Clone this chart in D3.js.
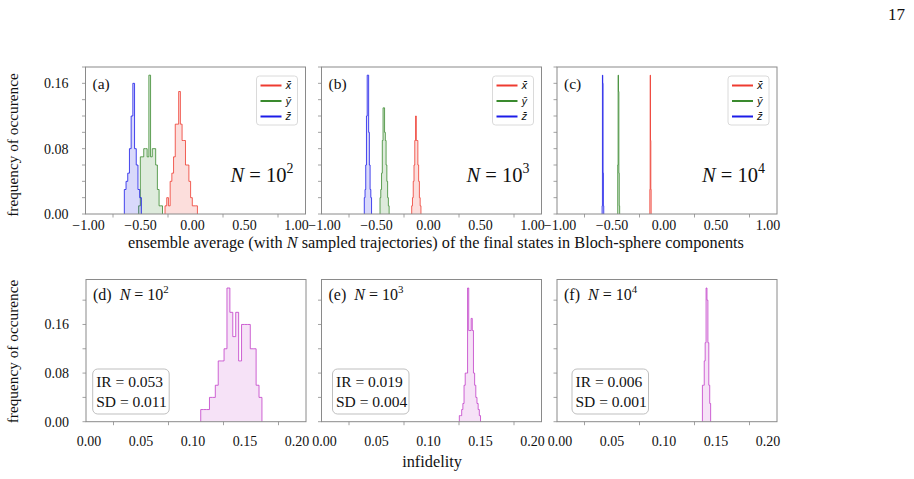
<!DOCTYPE html>
<html>
<head>
<meta charset="utf-8">
<script src="https://cdn.jsdelivr.net/npm/d3@7"></script>
<style>
  body { margin: 0; background: #fff; }
  svg text { font-family: "Liberation Serif", "Times New Roman", serif; fill: #111; }
</style>
</head>
<body>
<svg id="fig" width="914" height="479"></svg>
<script>
// ---- data ----
// top row: histograms of the Bloch components, one entry per component (x̄, ȳ, z̄)
var compNames = ["x\u0304", "y\u0304", "z\u0304"];
var compColors = ["#ee3b30", "#3a8a2e", "#1c1ce8"];

var histA = [
    { start: -0.277, width: 0.0155, freq: [0.01, 0.02, 0.01, 0.04, 0.05, 0.07, 0.11, 0.11, 0.15, 0.11, 0.09, 0.09, 0.06, 0.06, 0.04, 0.02, 0.01, 0.01, 0.01] },
    { start: -0.517, width: 0.0155, freq: [0.01, 0.07, 0.07, 0.08, 0.08, 0.07, 0.17, 0.07, 0.08, 0.08, 0.06, 0.03, 0.01, 0.01] },
    { start: -0.647, width: 0.0155, freq: [0.03, 0.04, 0.05, 0.08, 0.12, 0.16, 0.08, 0.06, 0.03, 0.02] }
];
var histB = [
    { start: -0.180, width: 0.0070, freq: [0.01, 0.02, 0.04, 0.06, 0.09, 0.12, 0.09, 0.09, 0.06, 0.04, 0.02, 0.01] },
    { start: -0.468, width: 0.0069, freq: [0.02, 0.03, 0.05, 0.09, 0.13, 0.13, 0.10, 0.09, 0.06, 0.04, 0.02, 0.01] },
    { start: -0.611, width: 0.0066, freq: [0.02, 0.03, 0.06, 0.12, 0.17, 0.17, 0.10, 0.06, 0.03, 0.02] }
];
var histC = [
    { start: -0.156, width: 0.0030, freq: [0.03, 0.17, 0.09, 0.03] },
    { start: -0.448, width: 0.0035, freq: [0.06, 0.17, 0.15, 0.05, 0.01] },
    { start: -0.590, width: 0.0030, freq: [0.01, 0.17, 0.16, 0.05, 0.01] }
];

// bottom row: infidelity histograms
var histD = { start: 0.1043, width: 0.00265, freq: [0.02, 0.02, 0.02, 0.04, 0.04, 0.06, 0.10, 0.10, 0.12, 0.22, 0.18, 0.14, 0.18, 0.10, 0.16, 0.16, 0.16, 0.12, 0.12, 0.06, 0.04] };
var histE = { start: 0.1253, width: 0.00107, freq: [0.01, 0.01, 0.02, 0.03, 0.06, 0.08, 0.08, 0.22, 0.15, 0.15, 0.17, 0.15, 0.08, 0.06, 0.04, 0.03, 0.02, 0.01] };
var histF = { start: 0.1322, width: 0.00083, freq: [0.06, 0.06, 0.10, 0.13, 0.22, 0.20, 0.13, 0.06, 0.03] };

var panelTags = ["(a)", "(b)", "(c)", "(d)", "(e)", "(f)"];
var sampleExps = ["2", "3", "4"];
var irValues = ["0.053", "0.019", "0.006"];
var sdValues = ["0.011", "0.004", "0.001"];

var topXTicks = [-1, -0.5, 0, 0.5, 1];
var topXMinor = [-0.75, -0.25, 0.25, 0.75];
var botXTicks = [0, 0.05, 0.10, 0.15, 0.20];
var botXMinor = [0.025, 0.075, 0.125, 0.175];
var yTickLabels = [0, 0.08, 0.16];

// ---- layout ----
var svg = d3.select("#fig");
var colLefts = [85.5, 321.5, 557];
var panelW = 220;
var topRow = { top: 67, bottom: 214 };
var botRow = { top: 279.5, bottom: 421.7 };
var spineColor = "#8a8a8a";
var purple = "#c23fc8";

function stepPoints(h) {
    var pts = [[h.start, 0]];
    h.freq.forEach(function (f, i) { pts.push([h.start + i * h.width, f]); });
    pts.push([h.start + h.freq.length * h.width, 0]);
    return pts;
}

function drawHist(g, x, y, h, color, fillOpacity) {
    var pts = stepPoints(h);
    g.append("path")
        .attr("d", d3.area().curve(d3.curveStepAfter)
            .x(function (d) { return x(d[0]); })
            .y0(y(0))
            .y1(function (d) { return y(d[1]); })(pts))
        .attr("fill", color).attr("fill-opacity", fillOpacity).attr("stroke", "none");
    g.append("path")
        .attr("d", d3.line().curve(d3.curveStepAfter)
            .x(function (d) { return x(d[0]); })
            .y(function (d) { return y(d[1]); })(pts))
        .attr("fill", "none").attr("stroke", color).attr("stroke-opacity", 0.8).attr("stroke-width", 1);
}

function drawFrame(g, x, y, row, xMinor, xTicks, xFmt, yStep, yMax, labelDy, showY) {
    var l = x.range()[0], r = x.range()[1];
    // minor ticks
    g.selectAll(".xt").data(xMinor).enter().append("line")
        .attr("x1", function (d) { return x(d); }).attr("x2", function (d) { return x(d); })
        .attr("y1", row.bottom).attr("y2", row.bottom + 3.5)
        .attr("stroke", spineColor).attr("stroke-width", 0.8);
    var yt = d3.range(0, yMax + 1e-9, yStep);
    g.selectAll(".yt").data(yt).enter().append("line")
        .attr("x1", l - 3.5).attr("x2", l)
        .attr("y1", function (d) { return y(d); }).attr("y2", function (d) { return y(d); })
        .attr("stroke", spineColor).attr("stroke-width", 0.8);
    // tick labels sit a little inward of the frame in the original
    var xl = x.copy().range([l + 3, r - 9]);
    g.selectAll(".xl").data(xTicks).enter().append("text")
        .attr("x", function (d) { return xl(d); })
        .attr("y", row.bottom + labelDy)
        .attr("text-anchor", "middle").attr("font-size", 14)
        .text(xFmt);
    if (showY) {
        g.selectAll(".yl").data(yTickLabels).enter().append("text")
            .attr("x", l - 17).attr("y", function (d) { return y(d); })
            .attr("dy", "0.35em").attr("text-anchor", "end").attr("font-size", 14)
            .text(d3.format(".2f"));
    }
    g.append("rect")
        .attr("x", l).attr("y", row.top).attr("width", r - l).attr("height", row.bottom - row.top)
        .attr("fill", "none").attr("stroke", spineColor).attr("stroke-width", 1);
}

function nLabel(sel, exp, size) {
    sel.append("tspan").attr("font-style", "italic").text("N");
    sel.append("tspan").text(" = 10");
    sel.append("tspan").attr("dy", -size * 0.42).attr("font-size", size * 0.68).text(exp);
}

// ---- top row ----
[histA, histB, histC].forEach(function (hists, c) {
    var l = colLefts[c];
    var x = d3.scaleLinear().domain([-1, 1]).range([l, l + panelW]);
    var y = d3.scaleLinear().domain([0, 0.18]).range([topRow.bottom, topRow.top]);
    var g = svg.append("g");
    hists.forEach(function (h, k) { drawHist(g, x, y, h, compColors[k], 0.17); });
    drawFrame(g, x, y, topRow, topXMinor, topXTicks, d3.format(".2f"), 0.02, 0.18, 16, c === 0);

    g.append("text").attr("x", l + 7).attr("y", topRow.top + 22).attr("font-size", 15.5).text(panelTags[c]);

    var nt = g.append("text").attr("x", l + panelW - 12).attr("y", topRow.top + 114.5)
        .attr("text-anchor", "end").attr("font-size", 20.5);
    nLabel(nt, sampleExps[c], 20.5);

    // legend
    var lx = l + panelW - 49, ly = topRow.top + 9;
    g.append("rect").attr("x", lx).attr("y", ly).attr("width", 41).attr("height", 49).attr("rx", 3)
        .attr("fill", "#fff").attr("fill-opacity", 0.85).attr("stroke", "#d0d0d0").attr("stroke-width", 0.8);
    compNames.forEach(function (name, k) {
        var yy = ly + 9.5 + k * 15.5;
        g.append("line").attr("x1", lx + 4).attr("x2", lx + 25).attr("y1", yy).attr("y2", yy)
            .attr("stroke", compColors[k]).attr("stroke-width", 2);
        g.append("text").attr("x", lx + 29).attr("y", yy + 3.5)
            .attr("font-size", 10).attr("font-style", "italic")
            .style("font-family", "'DejaVu Sans', sans-serif").text(name);
    });
});

// ---- bottom row ----
[histD, histE, histF].forEach(function (h, c) {
    var l = colLefts[c] + (c === 0 ? 0.5 : 0);
    var x = d3.scaleLinear().domain([0, 0.2]).range([l, l + panelW]);
    var y = d3.scaleLinear().domain([0, 0.234]).range([botRow.bottom, botRow.top]);
    var g = svg.append("g");
    drawHist(g, x, y, h, purple, 0.15);
    drawFrame(g, x, y, botRow, botXMinor, botXTicks, d3.format(".2f"), 0.04, 0.234, 24.5, c === 0);

    var t = g.append("text").attr("x", l + 7).attr("y", botRow.top + 20.5).attr("font-size", 16);
    t.append("tspan").text(panelTags[c + 3] + "\u2002");
    nLabel(t, sampleExps[c], 16);

    var bx = l + [6.7, 11, 15][c], by = 369;
    g.append("rect").attr("x", bx).attr("y", by).attr("width", 76.5).attr("height", 45).attr("rx", 5)
        .attr("fill", "#fff").attr("stroke", "#b8b8b8").attr("stroke-width", 0.9);
    g.append("text").attr("x", bx + 3.5).attr("y", by + 18).attr("font-size", 15.5).text("IR = " + irValues[c]);
    g.append("text").attr("x", bx + 3.5).attr("y", by + 38).attr("font-size", 15.5).text("SD = " + sdValues[c]);
});

// ---- shared labels ----
svg.append("text").attr("transform", "translate(18,145) rotate(-90)")
    .attr("text-anchor", "middle").attr("font-size", 15.3).text("frequency of occurence");
svg.append("text").attr("transform", "translate(18,351.5) rotate(-90)")
    .attr("text-anchor", "middle").attr("font-size", 15.3).text("frequency of occurence");

var xl = svg.append("text").attr("x", 436).attr("y", 248).attr("text-anchor", "middle").attr("font-size", 16.3);
xl.append("tspan").text("ensemble average (with ");
xl.append("tspan").attr("font-style", "italic").text("N");
xl.append("tspan").text(" sampled trajectories) of the final states in Bloch-sphere components");

svg.append("text").attr("x", 432).attr("y", 467).attr("text-anchor", "middle").attr("font-size", 16.3).text("infidelity");

svg.append("text").attr("x", 905).attr("y", 20).attr("text-anchor", "end").attr("font-size", 17).text("17");
</script>
</body>
</html>
